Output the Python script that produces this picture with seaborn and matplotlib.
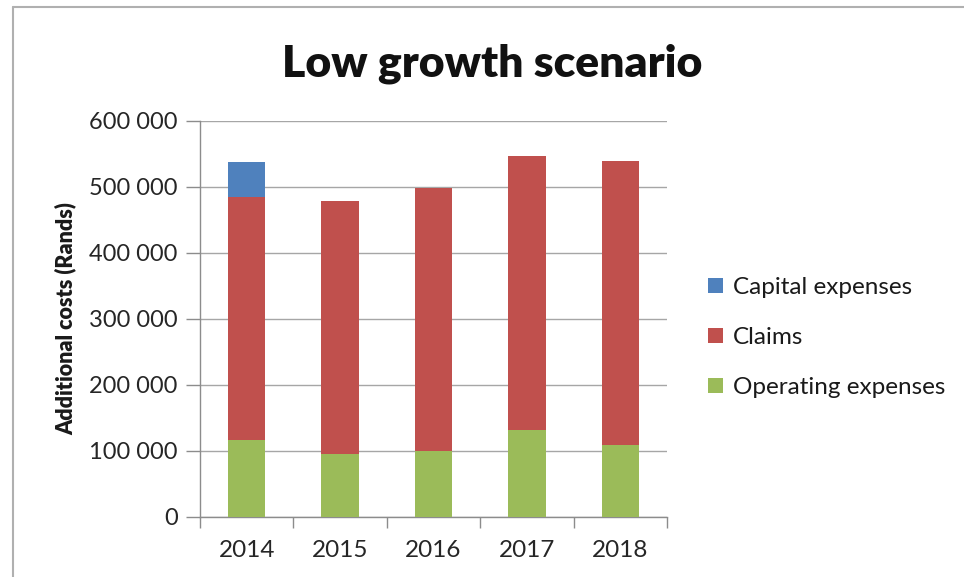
import matplotlib
matplotlib.use("Agg")
import matplotlib.pyplot as plt
import matplotlib.lines as mlines
from matplotlib.patches import Patch
import seaborn as sns
import pandas as pd

years = ["2014", "2015", "2016", "2017", "2018"]
operating = [116000, 95500, 99000, 132000, 109000]
claims = [368000, 382500, 399000, 414000, 430000]
capital = [53000, 0, 0, 0, 0]

series_names = ["Capital expenses", "Claims", "Operating expenses"]
colors = ["#4F81BD", "#C0504D", "#9BBB59"]
yticks = [0, 100000, 200000, 300000, 400000, 500000, 600000]

sns.set_theme(style="white")
plt.rcParams['font.family'] = ['Lato', 'DejaVu Sans']

df = pd.DataFrame({"year": years, "op": operating, "claims": claims, "cap": capital})
df["op_claims"] = df["op"] + df["claims"]
df["total"] = df["op_claims"] + df["cap"]

fig = plt.figure(figsize=(9.64, 5.77), dpi=100)
ax = fig.add_axes([0.2075, 0.1045, 0.4845, 0.6865])

# stacked bars: draw cumulative totals from the top down
for col, c in zip(["total", "op_claims", "op"], colors):
    sns.barplot(data=df, x="year", y=col, color=c, width=0.4, saturation=1,
                linewidth=0, ax=ax, zorder=3)

ax.set_ylim(0, 600000)
ax.set_xlim(-0.5, 4.5)
ax.set_yticks(yticks)
ax.set_yticklabels([f"{v:,}".replace(",", " ") for v in yticks], fontsize=17,
                   color="#262626")
ax.set_xticks(range(len(years)))
ax.set_xticklabels(years, fontsize=17.5, color="#262626")
ax.tick_params(axis="x", length=0, pad=17)
ax.tick_params(axis="y", length=10, width=1, color="#8c8c8c", pad=6, left=True)

# tick marks between categories on the x axis
ax.set_xticks([i - 0.5 for i in range(len(years) + 1)], minor=True)
ax.tick_params(axis="x", which="minor", length=8, width=1, color="#8c8c8c",
               bottom=True, direction="out")

ax.grid(axis="y", color="#a6a6a6", linewidth=1, zorder=0)
for s in ["top", "right"]:
    ax.spines[s].set_visible(False)
for s in ["left", "bottom"]:
    ax.spines[s].set_color("#8c8c8c")
    ax.spines[s].set_linewidth(1)

ax.set_xlabel("")
ax.set_ylabel("Additional costs (Rands)", fontsize=15.5, fontweight="heavy",
              color="#1a1a1a", labelpad=9)

fig.text(0.511, 0.89, "Low growth scenario", ha="center", va="center",
         fontsize=32, fontweight="heavy", color="#111111")

handles = [Patch(facecolor=c, edgecolor="none") for c in colors]
fig.legend(handles, series_names, loc="center left", bbox_to_anchor=(0.712, 0.415),
           frameon=False, fontsize=17.5, handlelength=0.6, handleheight=0.6,
           handletextpad=0.4, labelspacing=1.2, labelcolor="#1a1a1a")

# outer chart border (top and left edges visible)
fig.add_artist(mlines.Line2D([13 / 964, 13 / 964], [0, 1 - 7 / 577],
                             transform=fig.transFigure, color="#b0b0b0", lw=1.5))
fig.add_artist(mlines.Line2D([13 / 964, 1], [1 - 7 / 577, 1 - 7 / 577],
                             transform=fig.transFigure, color="#b0b0b0", lw=1.5))

fig.savefig("out.png", dpi=100)
